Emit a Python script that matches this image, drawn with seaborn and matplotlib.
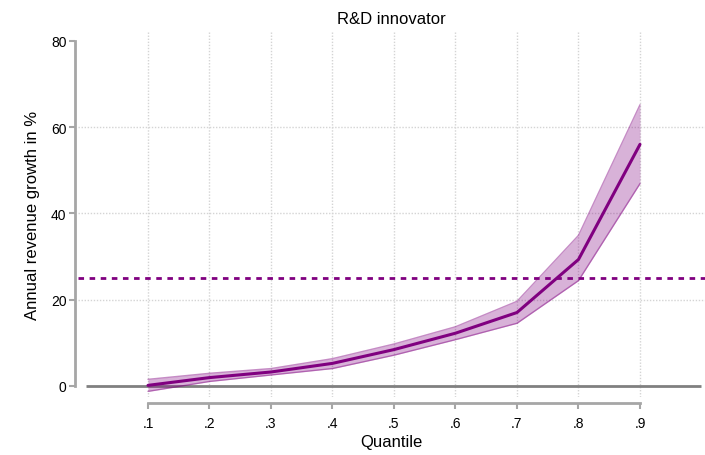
import numpy as np
import pandas as pd
import matplotlib
matplotlib.use('Agg')
import matplotlib.pyplot as plt
import seaborn as sns

# values
quantiles = [0.1, 0.2, 0.3, 0.4, 0.5, 0.6, 0.7, 0.8, 0.9]
estimate = [0.1, 1.9, 3.2, 5.2, 8.4, 12.2, 17.0, 29.3, 56.0]
ci_upper = [1.5, 2.9, 4.0, 6.3, 9.7, 13.7, 19.6, 34.9, 65.2]
ci_lower = [-1.3, 1.0, 2.5, 4.0, 7.1, 10.7, 14.5, 24.4, 46.9]
reference_level = 25
tick_labels = ['.1', '.2', '.3', '.4', '.5', '.6', '.7', '.8', '.9']
y_ticks = [0, 20, 40, 60, 80]

df = pd.DataFrame({'Quantile': quantiles, 'Estimate': estimate,
                   'Upper': ci_upper, 'Lower': ci_lower})

sns.set_style('white')
plt.rcParams['font.family'] = ['Liberation Sans', 'DejaVu Sans']

purple = '#800080'
axis_grey = '#a6a6a6'

fig = plt.figure(figsize=(7.05, 4.56), dpi=100)
ax = fig.add_axes([78 / 705, 58 / 456, 627 / 705, 366 / 456])

# grid
for q in quantiles:
    ax.axvline(q, color='#d4d4d4', lw=1, ls=(0, (1, 1.2)), zorder=0)
for v in y_ticks[1:-1]:
    ax.axhline(v, color='#d4d4d4', lw=1, ls=(0, (1, 1.2)), zorder=0)

ax.hlines(0, 0, 1, color='#808080', lw=2, zorder=1)

ax.fill_between(df['Quantile'], df['Lower'], df['Upper'],
                facecolor=purple, alpha=0.3, lw=0, zorder=2)
ax.plot(df['Quantile'], df['Upper'], color=purple, alpha=0.45, lw=1, zorder=2)
ax.plot(df['Quantile'], df['Lower'], color=purple, alpha=0.45, lw=1, zorder=2)
sns.lineplot(data=df, x='Quantile', y='Estimate', color=purple, lw=2.2,
             ax=ax, zorder=3)

ax.axhline(reference_level, color=purple, lw=2, ls=(0, (2, 2)), zorder=3)

ax.set_xlim(-0.0138, 1.0057)
ax.set_ylim(-2.6, 82.3)
ax.set_xticks(quantiles)
ax.set_xticklabels(tick_labels)
ax.set_yticks(y_ticks)

for side in ['top', 'right']:
    ax.spines[side].set_visible(False)
ax.spines['left'].set_position(('outward', 2.2))
ax.spines['left'].set_bounds(0, 80)
ax.spines['bottom'].set_position(('outward', 4.6))
ax.spines['bottom'].set_bounds(0.1, 0.9)
for side in ['left', 'bottom']:
    ax.spines[side].set_color(axis_grey)
    ax.spines[side].set_linewidth(2)

ax.tick_params(axis='y', which='major', length=4, width=1.5,
               color=axis_grey, labelsize=10, labelcolor='black',
               direction='out', pad=2, left=True)
ax.tick_params(axis='x', which='major', length=4, width=1.5,
               color=axis_grey, labelsize=10, labelcolor='black',
               direction='out', pad=5, bottom=True)

ax.set_title('R&D innovator', fontsize=12, pad=6, color='black')
ax.set_xlabel('Quantile', fontsize=12, labelpad=3, color='black')
ax.set_ylabel('Annual revenue growth in %', fontsize=12, labelpad=8,
              color='black')

fig.savefig('out.png', dpi=100, facecolor='white')
